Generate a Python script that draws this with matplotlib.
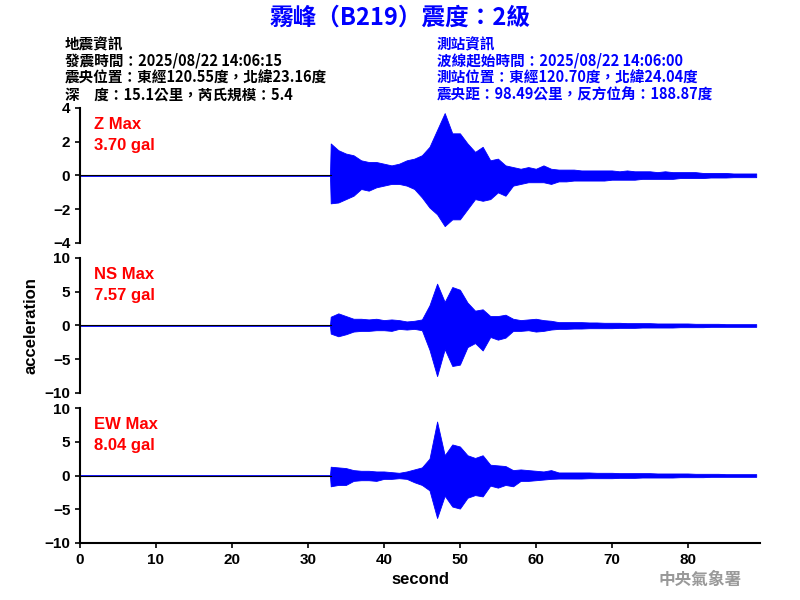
import numpy as np
import matplotlib
matplotlib.use("Agg")
import matplotlib.pyplot as plt

plt.rcParams['font.family'] = ['Liberation Sans', 'Noto Sans CJK TC', 'DejaVu Sans']

# envelope of each trace, one value per second
t = [0, 32.9] + list(range(33, 90))
z_up = [0.02, 0.02, 1.9, 1.5, 1.3, 1.2, 0.9, 0.8, 0.8, 0.7, 0.6, 0.7, 0.9, 1.0, 1.2, 1.7, 2.7, 3.7, 2.5, 2.5,
        1.9, 1.4, 1.7, 0.9, 1.0, 0.6, 0.5, 0.4, 0.5, 0.4, 0.6, 0.4, 0.35, 0.35, 0.35, 0.3, 0.3, 0.3, 0.3,
        0.3, 0.25, 0.3, 0.25, 0.25, 0.25, 0.2, 0.25, 0.2, 0.2, 0.2, 0.2, 0.15, 0.15, 0.15, 0.15, 0.12, 0.12, 0.12, 0.12]
z_lo = [-0.02, -0.02, -1.65, -1.6, -1.4, -1.2, -0.8, -0.9, -0.7, -0.6, -0.5, -0.5, -0.6, -0.8, -1.3, -1.9, -2.3, -3.0, -2.6, -2.6,
        -2.0, -1.4, -1.5, -1.4, -1.0, -1.2, -0.6, -0.5, -0.4, -0.4, -0.4, -0.5, -0.35, -0.35, -0.3, -0.3, -0.3, -0.3, -0.3,
        -0.25, -0.25, -0.25, -0.25, -0.2, -0.2, -0.2, -0.2, -0.2, -0.15, -0.15, -0.15, -0.15, -0.12, -0.12, -0.12, -0.1, -0.1, -0.1, -0.1]
ns_up = [0.05, 0.05, 1.3, 1.8, 1.4, 1.0, 1.0, 0.9, 1.0, 0.8, 0.9, 0.8, 0.6, 0.7, 0.9, 3.0, 6.2, 3.5, 5.7, 5.3,
         3.4, 2.2, 2.4, 1.4, 1.4, 1.6, 1.0, 0.8, 0.9, 1.0, 0.8, 0.7, 0.5, 0.5, 0.5, 0.5, 0.45, 0.45, 0.4,
         0.4, 0.4, 0.35, 0.35, 0.35, 0.35, 0.3, 0.3, 0.3, 0.3, 0.3, 0.25, 0.25, 0.25, 0.25, 0.2, 0.2, 0.2, 0.2, 0.2]
ns_lo = [-0.05, -0.05, -1.2, -1.6, -1.3, -0.9, -0.8, -0.8, -0.7, -0.7, -0.8, -0.5, -0.6, -0.5, -0.7, -3.6, -7.5, -3.5, -6.0, -5.8,
         -3.2, -2.6, -3.7, -1.7, -2.1, -1.8, -0.8, -0.8, -0.7, -0.9, -0.8, -0.6, -0.5, -0.5, -0.45, -0.45, -0.4, -0.4, -0.4,
         -0.4, -0.35, -0.35, -0.35, -0.3, -0.3, -0.3, -0.3, -0.3, -0.25, -0.25, -0.25, -0.25, -0.2, -0.2, -0.2, -0.2, -0.2, -0.2, -0.2]
ew_up = [0.05, 0.05, 1.3, 1.2, 1.1, 0.8, 0.7, 0.7, 0.6, 0.6, 0.5, 0.4, 0.6, 0.9, 1.2, 2.5, 8.0, 3.0, 4.6, 4.3,
         3.0, 2.6, 3.0, 1.6, 1.5, 1.4, 0.8, 0.9, 0.8, 0.7, 0.6, 0.8, 0.45, 0.45, 0.45, 0.45, 0.45, 0.4, 0.4,
         0.4, 0.35, 0.35, 0.35, 0.35, 0.35, 0.3, 0.3, 0.3, 0.3, 0.3, 0.25, 0.25, 0.25, 0.25, 0.2, 0.2, 0.2, 0.2, 0.2]
ew_lo = [-0.05, -0.05, -1.6, -1.4, -1.4, -0.8, -0.7, -0.7, -0.8, -0.5, -0.5, -0.4, -0.5, -1.0, -1.4, -2.2, -6.3, -3.0, -4.6, -4.9,
         -3.3, -2.9, -3.1, -1.5, -1.8, -1.4, -1.6, -0.8, -0.8, -0.7, -0.6, -0.5, -0.45, -0.45, -0.45, -0.45, -0.4, -0.4, -0.4,
         -0.4, -0.35, -0.35, -0.35, -0.3, -0.3, -0.3, -0.3, -0.3, -0.25, -0.25, -0.25, -0.25, -0.2, -0.2, -0.2, -0.2, -0.2, -0.2, -0.2]

channels = [("Z Max", "3.70 gal", z_up, z_lo, 4, [-4, -2, 0, 2, 4]),
            ("NS Max", "7.57 gal", ns_up, ns_lo, 10, [-10, -5, 0, 5, 10]),
            ("EW Max", "8.04 gal", ew_up, ew_lo, 10, [-10, -5, 0, 5, 10])]

fig = plt.figure(figsize=(8, 6), dpi=100)
blue = '#0000ff'
for i, (name, peak, up, lo, lim, ticks) in enumerate(channels):
    top = 1 - (108 + i * 150) / 600
    ax = fig.add_axes([80 / 800, top - 135 / 600, 680 / 800, 135 / 600])
    ax.fill_between(t, lo, up, color=blue, lw=0.6)
    ax.plot([0, 33], [0, 0], color='black', lw=0.8)
    ax.set_xlim(0, 89.5)
    ax.set_ylim(-lim, lim)
    ax.set_yticks(ticks)
    for s in ['top', 'right']:
        ax.spines[s].set_visible(False)
    ax.spines['left'].set_linewidth(1.5)
    ax.tick_params(labelsize=11, width=1.2)
    for lab in ax.get_yticklabels():
        lab.set_fontweight('bold')
    ax.text(0.02, 0.93, name + "\n" + peak, transform=ax.transAxes, color='#ff0000',
            fontsize=12, fontweight='bold', va='top', linespacing=1.5)
    if i < 2:
        ax.spines['bottom'].set_visible(False)
        ax.set_xticks([])
    else:
        ax.spines['bottom'].set_linewidth(1.5)
        ax.set_xticks(range(0, 90, 10))
        for lab in ax.get_xticklabels():
            lab.set_fontweight('bold')
        ax.set_xlabel("second", fontsize=12, fontweight='bold')
    if i == 1:
        ax.set_ylabel("acceleration", fontsize=12, fontweight='bold')

cjk = ['Noto Sans CJK TC', 'DejaVu Sans']
fig.text(0.5, 1 - 18 / 600, "霧峰（B219）震度：2級", ha='center', va='center', color=blue,
         fontsize=17, fontweight='bold', family=cjk)
left_lines = ["地震資訊", "發震時間：2025/08/22 14:06:15", "震央位置：東經120.55度，北緯23.16度",
              "深　度：15.1公里，芮氏規模：5.4"]
right_lines = ["測站資訊", "波線起始時間：2025/08/22 14:06:00", "測站位置：東經120.70度，北緯24.04度",
               "震央距：98.49公里，反方位角：188.87度"]
for k, (a, b) in enumerate(zip(left_lines, right_lines)):
    y = 1 - (44 + k * 17) / 600
    fig.text(65 / 800, y, a, fontsize=10.5, fontweight='bold', va='center', family=cjk)
    fig.text(437 / 800, y, b, fontsize=10.5, fontweight='bold', va='center', color=blue, family=cjk)
fig.text(700 / 800, 1 - 580 / 600, "中央氣象署", fontsize=12, fontweight='bold', color='#999999',
         ha='center', va='center', family=cjk)

fig.savefig("out.png", dpi=100)
